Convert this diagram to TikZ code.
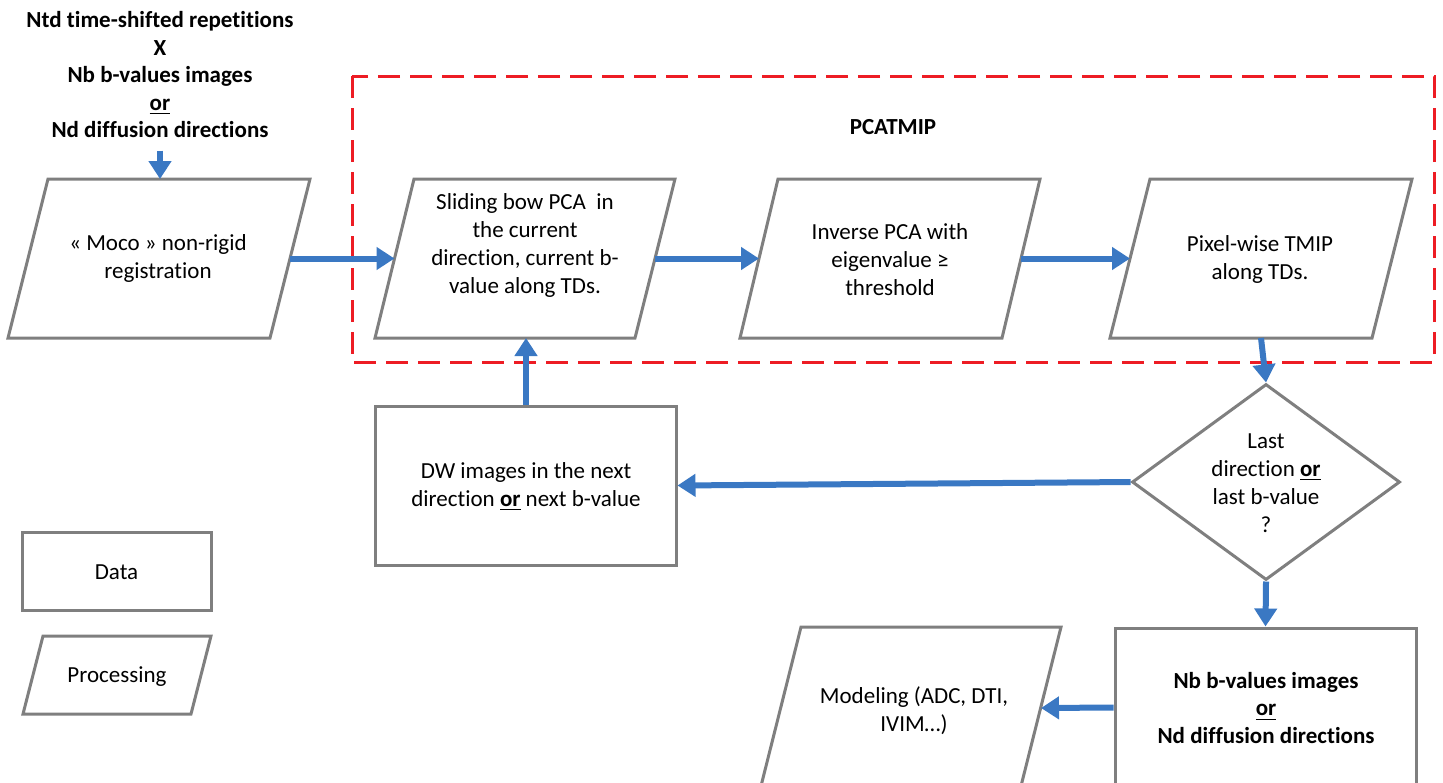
\documentclass[tikz,border=0pt]{standalone}
\usepackage{fontspec}
\setmainfont{Carlito}[Ligatures=NoCommon]
\usetikzlibrary{arrows.meta,shapes.geometric}
\definecolor{gline}{RGB}{127,127,127}
\definecolor{barrow}{RGB}{58,120,195}
\definecolor{rdash}{RGB}{237,28,36}
\begin{document}
\begin{tikzpicture}[x=0.5pt,y=-0.5pt,
  gbox/.style={draw=gline,line width=1.5pt,line join=miter},
  rbox/.style={gbox,rectangle,inner sep=0pt},
  txt/.style={align=center,inner sep=0pt,font=\fontsize{11.5}{14}\selectfont},
  btxt/.style={align=center,inner sep=0pt,font=\fontsize{11.5}{13.75}\selectfont\bfseries},
  flow/.style={draw=barrow,line width=3pt,-{Triangle[length=9pt,width=11pt]}},
  groupbox/.style={draw=rdash,line width=1.5pt,dash pattern=on 11pt off 5pt}
]
\useasboundingbox (0,0) rectangle (1443,782);

% input text
\node[btxt] (intext) at (160,75) {Ntd time-shifted repetitions\\X\\Nb b-values images\\\underline{or}\\Nd diffusion directions};

% PCATMIP group
\draw[groupbox] (352,76) rectangle (1434,362);
\node[btxt] (pcatmip) at (893,127) {PCATMIP};

% Moco
\draw[gbox] (48,179) -- (310,179) -- (270,338) -- (8,338) -- cycle;
\coordinate (mocoT) at (160,179);
\coordinate (mocoR) at (290,258.5);
\node[txt] (moco) at (158,258) {« Moco » non-rigid\\registration};

% Sliding
\draw[gbox] (414,179) -- (675,179) -- (635,338) -- (375,338) -- cycle;
\coordinate (slideL) at (394.5,258.5);
\coordinate (slideR) at (655,258.5);
\coordinate (slideB) at (526,338);
\node[txt] (slide) at (525,245.5) {Sliding bow PCA\ \ in\\the current\\direction, current b-\\value along TDs.};

% Inverse
\draw[gbox] (778,179) -- (1040,179) -- (1002,338) -- (740,338) -- cycle;
\coordinate (invL) at (759,258.5);
\coordinate (invR) at (1021,258.5);
\node[txt] (inv) at (890,259.5) {Inverse PCA with\\eigenvalue ≥\\threshold};

% Pixel
\draw[gbox] (1150,179) -- (1412,179) -- (1372,338) -- (1110,338) -- cycle;
\coordinate (pixL) at (1130,258.5);
\coordinate (pixB) at (1261,338);
\node[txt] (pix) at (1260,259) {Pixel-wise TMIP\\along TDs.};

% Decision
\node[gbox,diamond,minimum width=134pt,minimum height=98pt,inner sep=0pt] (dia) at (1266,482) {};
\node[txt] (diat) at (1266,483.5) {Last\\direction \underline{\textbf{or}}\\last b-value\\?};

% DW images
\node[rbox,minimum width=150.5pt,minimum height=79.5pt] (dw) at (525.5,485.5) {};
\node[txt] (dwt) at (526,486.5) {DW images in the next\\direction \underline{\textbf{or}} next b-value};

% Nb output
\node[rbox,minimum width=150.5pt,minimum height=79.5pt] (nb) at (1265.5,707.5) {};
\node[btxt] (nbt) at (1266,708) {Nb b-values images\\\underline{or}\\Nd diffusion directions};

% Modeling
\draw[gbox] (801,627) -- (1061,627) -- (1021,786) -- (761,786) -- cycle;
\coordinate (modR) at (1041,708);
\node[txt] (mod) at (914,711) {Modeling (ADC, DTI,\\IVIM…)};

% Legend
\node[rbox,minimum width=94.5pt,minimum height=39pt] (data) at (116.5,571) {};
\node[txt] (datat) at (116.5,572) {Data};
\draw[gbox] (43,636) -- (211,636) -- (191,714) -- (23,714) -- cycle;
\node[txt] (proct) at (117,677) {Processing};

% connectors
\draw[flow,shorten <=6pt] (intext.south) -- (mocoT);
\draw[flow] (mocoR) -- (slideL);
\draw[flow] (slideR) -- (invL);
\draw[flow] (invR) -- (pixL);
\draw[flow] (pixB) -- (dia.north);
\draw[flow] (dia.west) -- (dw.east);
\draw[flow] (dw.north -| slideB) -- (slideB);
\draw[flow] (dia.south) -- (nb.north);
\draw[flow] (nb.west) -- (modR);
\end{tikzpicture}
\end{document}
